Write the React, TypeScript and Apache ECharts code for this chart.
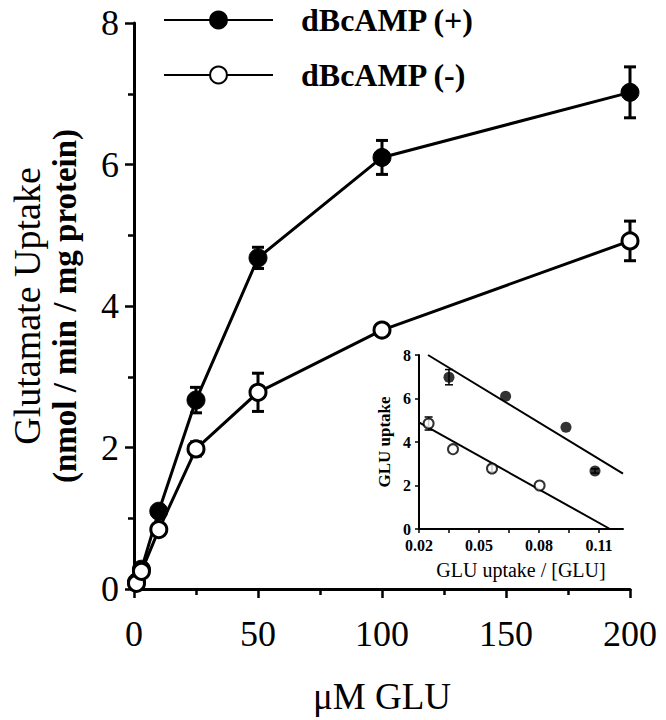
import React, { useEffect, useRef } from 'react';
import * as echarts from 'echarts';

// ---- main plot data (µM GLU vs uptake) ----
const concentrations = [1, 3, 10, 25, 50, 100, 200];
const uptakePlus = [0.1, 0.28, 1.1, 2.67, 4.68, 6.1, 7.02];
const errPlus = [0, 0, 0.08, 0.18, 0.15, 0.24, 0.36];
const uptakeMinus = [0.08, 0.25, 0.84, 1.98, 2.78, 3.66, 4.92];
const errMinus = [0, 0, 0.05, 0.1, 0.27, 0.08, 0.28];

const seriesNames = ['dBcAMP (+)', 'dBcAMP (-)'];

// ---- inset (Eadie-Hofstee) data ----
const insetXPlus = [0.035, 0.0633, 0.0935, 0.108];
const insetYPlus = [6.98, 6.1, 4.68, 2.67];
const insetErrPlus = [0.35, 0, 0, 0.1];
const insetXMinus = [0.0248, 0.037, 0.0565, 0.0803];
const insetYMinus = [4.85, 3.67, 2.78, 2.0];
const insetErrMinus = [0.3, 0, 0.15, 0];
const fitPlusX = [0.0245, 0.122];
const fitPlusY = [8, 2.55];
const fitMinusX = [0.02, 0.1155];
const fitMinusY = [4.9, 0];
const insetXLabelValues = [0.02, 0.05, 0.08, 0.11];
const insetXTickValues = [0.02, 0.035, 0.05, 0.065, 0.08, 0.095, 0.11];

const FONT = '"Liberation Serif", "Times New Roman", serif';

function pairs(xs: number[], ys: number[]) {
  return xs.map((x, i) => [x, ys[i]]);
}

function errorBars(
  xs: number[], ys: number[], errs: number[],
  axisIndex: number, capHalf: number, lw: number
) {
  const data: number[][] = [];
  xs.forEach((x, i) => {
    if (errs[i] > 0) data.push([x, ys[i] - errs[i], ys[i] + errs[i]]);
  });
  return {
    type: 'custom',
    xAxisIndex: axisIndex,
    yAxisIndex: axisIndex,
    silent: true,
    z: 1,
    encode: { x: 0, y: [1, 2] },
    data,
    renderItem: (params: any, api: any) => {
      const lo = api.coord([api.value(0), api.value(1)]);
      const hi = api.coord([api.value(0), api.value(2)]);
      const style = { stroke: '#000', lineWidth: lw, fill: 'none' };
      return {
        type: 'group',
        children: [
          { type: 'line', shape: { x1: lo[0], y1: lo[1], x2: hi[0], y2: hi[1] }, style },
          { type: 'line', shape: { x1: lo[0] - capHalf, y1: lo[1], x2: lo[0] + capHalf, y2: lo[1] }, style },
          { type: 'line', shape: { x1: hi[0] - capHalf, y1: hi[1], x2: hi[0] + capHalf, y2: hi[1] }, style },
        ],
      };
    },
  };
}

export default function App() {
  const ref = useRef<HTMLDivElement>(null);
  useEffect(() => {
    if (!ref.current) return;
    const chart = echarts.init(ref.current, undefined, { renderer: 'svg' });
    const axisCommon = {
      axisLine: { show: true, lineStyle: { color: '#000', width: 3 } },
      splitLine: { show: false },
    };
    const option: any = {
      animation: false,
      backgroundColor: '#fff',
      legend: {
        data: seriesNames,
        orient: 'vertical',
        left: 163,
        top: 4,
        padding: 0,
        itemWidth: 109,
        itemHeight: 21,
        itemGap: 23,
        selectedMode: false,
        textStyle: {
          fontFamily: FONT,
          fontWeight: 'bold',
          fontSize: 32,
          color: '#000',
          padding: [8, 0, 0, 23],
        },
      },
      grid: [
        { left: 131, right: 36, top: 23, bottom: 118, containLabel: false },
        { left: 419, top: 355, width: 204, height: 174, containLabel: false },
      ],
      xAxis: [
        {
          type: 'value',
          gridIndex: 0,
          min: 0,
          max: 200,
          interval: 50,
          ...axisCommon,
          axisTick: { show: true, length: 9, lineStyle: { color: '#000', width: 2.5 } },
          minorTick: { show: true, splitNumber: 2, length: 6, lineStyle: { color: '#000', width: 2.5 } },
          axisLabel: { fontFamily: FONT, fontSize: 36, color: '#000', margin: 27 },
          name: 'μM GLU',
          nameLocation: 'middle',
          nameGap: 89,
          nameTextStyle: { fontFamily: FONT, fontSize: 37, color: '#000' },
        },
        {
          type: 'value',
          gridIndex: 1,
          min: 0.02,
          max: 0.122,
          axisLine: { show: true, lineStyle: { color: '#000', width: 2 } },
          splitLine: { show: false },
          axisTick: { show: true, length: 4, customValues: insetXTickValues, lineStyle: { color: '#000', width: 1.5 } },
          axisLabel: {
            customValues: insetXLabelValues,
            formatter: (v: number) => v.toFixed(2),
            fontFamily: FONT, fontSize: 16, fontWeight: 'bold', color: '#000', margin: 8,
          },
          name: 'GLU uptake / [GLU]',
          nameLocation: 'middle',
          nameGap: 31,
          nameTextStyle: { fontFamily: FONT, fontSize: 20, color: '#000' },
        },
      ],
      yAxis: [
        {
          type: 'value',
          gridIndex: 0,
          min: 0,
          max: 8,
          interval: 2,
          ...axisCommon,
          axisTick: { show: true, length: 9, lineStyle: { color: '#000', width: 2.5 } },
          minorTick: { show: true, splitNumber: 2, length: 6, lineStyle: { color: '#000', width: 2.5 } },
          axisLabel: { fontFamily: FONT, fontSize: 36, color: '#000', margin: 15 },
          name: '{a|Glutamate Uptake}\n{b|(nmol / min / mg protein)}',
          nameLocation: 'middle',
          nameRotate: 90,
          nameGap: 50,
          nameTextStyle: {
            color: '#000',
            rich: {
              a: { fontFamily: FONT, fontSize: 38, lineHeight: 38, color: '#000' },
              b: { fontFamily: FONT, fontSize: 33, fontWeight: 'bold', lineHeight: 38, color: '#000' },
            },
          },
        },
        {
          type: 'value',
          gridIndex: 1,
          min: 0,
          max: 8,
          interval: 2,
          axisLine: { show: true, lineStyle: { color: '#000', width: 2 } },
          splitLine: { show: false },
          axisTick: { show: true, length: 4, lineStyle: { color: '#000', width: 1.5 } },
          axisLabel: { fontFamily: FONT, fontSize: 16, fontWeight: 'bold', color: '#000', margin: 8 },
          name: 'GLU uptake',
          nameLocation: 'middle',
          nameRotate: 90,
          nameGap: 26,
          nameTextStyle: { fontFamily: FONT, fontSize: 17, fontWeight: 'bold', color: '#000' },
        },
      ],
      series: [
        errorBars(concentrations, uptakePlus, errPlus, 0, 6, 3),
        errorBars(concentrations, uptakeMinus, errMinus, 0, 6, 3),
        {
          name: seriesNames[0],
          type: 'line',
          xAxisIndex: 0,
          yAxisIndex: 0,
          data: pairs(concentrations, uptakePlus),
          symbol: 'circle',
          symbolSize: 18,
          lineStyle: { color: '#000', width: 3 },
          itemStyle: { color: '#000', borderColor: '#000', borderWidth: 1 },
          z: 3,
        },
        {
          name: seriesNames[1],
          type: 'line',
          xAxisIndex: 0,
          yAxisIndex: 0,
          data: pairs(concentrations, uptakeMinus),
          symbol: 'circle',
          symbolSize: 16,
          lineStyle: { color: '#000', width: 3 },
          itemStyle: { color: '#fff', borderColor: '#000', borderWidth: 3 },
          z: 4,
        },
        // inset
        {
          type: 'line',
          xAxisIndex: 1,
          yAxisIndex: 1,
          data: pairs(fitPlusX, fitPlusY),
          showSymbol: false,
          symbol: 'none',
          lineStyle: { color: '#000', width: 2 },
          clip: false,
          silent: true,
        },
        {
          type: 'line',
          xAxisIndex: 1,
          yAxisIndex: 1,
          data: pairs(fitMinusX, fitMinusY),
          showSymbol: false,
          symbol: 'none',
          lineStyle: { color: '#000', width: 2 },
          clip: false,
          silent: true,
        },
        errorBars(insetXPlus, insetYPlus, insetErrPlus, 1, 4, 1.5),
        errorBars(insetXMinus, insetYMinus, insetErrMinus, 1, 4, 1.5),
        {
          type: 'scatter',
          xAxisIndex: 1,
          yAxisIndex: 1,
          data: pairs(insetXPlus, insetYPlus),
          symbol: 'circle',
          symbolSize: 11,
          itemStyle: { color: '#000' },
          z: 3,
        },
        {
          type: 'scatter',
          xAxisIndex: 1,
          yAxisIndex: 1,
          data: pairs(insetXMinus, insetYMinus),
          symbol: 'circle',
          symbolSize: 10,
          itemStyle: { color: '#fff', borderColor: '#000', borderWidth: 2 },
          z: 3,
        },
      ],
    };
    chart.setOption(option);
    return () => chart.dispose();
  }, []);
  return (
    <div
      ref={ref}
      style={{ position: 'absolute', left: 0, top: 0, width: 666, height: 720 }}
    />
  );
}
